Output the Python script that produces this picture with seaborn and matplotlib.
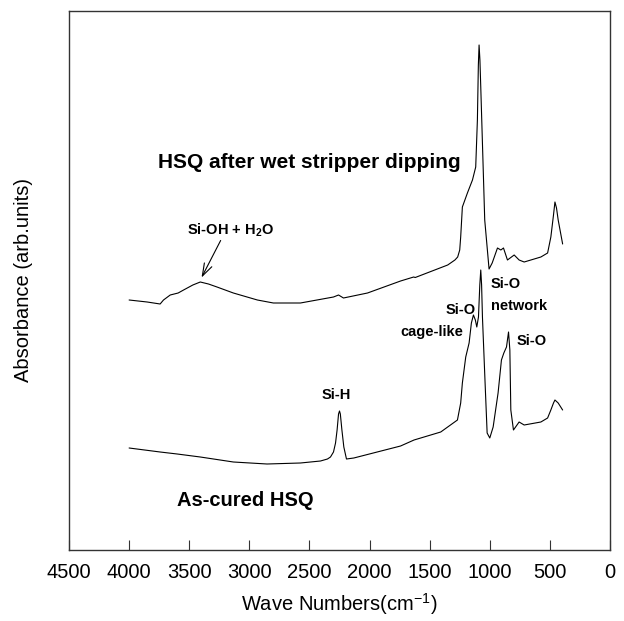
import matplotlib
matplotlib.use("Agg")
import matplotlib.pyplot as plt
import seaborn as sns
import pandas as pd

# --- data (wavenumber cm^-1, absorbance arb. units) ---
wet_wn = [4000, 3850, 3742, 3714, 3658, 3592, 3547, 3470, 3408, 3340, 3269, 3133, 2933,
          2800, 2575, 2300, 2258, 2217, 2017, 1742, 1633, 1620, 1350, 1290, 1267, 1250,
          1242, 1228, 1186, 1144, 1117, 1103, 1095, 1089, 1082, 1075, 1042, 1006, 980,
          936, 908, 886, 853, 797, 756, 714, 575, 519, 492, 470, 458, 445, 431, 394]
wet_abs = [2.50, 2.48, 2.46, 2.50, 2.55, 2.57, 2.60, 2.65, 2.68, 2.66, 2.63, 2.57, 2.50,
           2.47, 2.47, 2.53, 2.55, 2.52, 2.57, 2.69, 2.73, 2.725, 2.85, 2.90, 2.93, 3.00,
           3.13, 3.43, 3.57, 3.70, 3.83, 4.30, 4.85, 5.05, 4.90, 4.63, 3.30, 2.81, 2.87,
           3.02, 3.00, 3.02, 2.90, 2.95, 2.90, 2.88, 2.93, 2.97, 3.13, 3.35, 3.48, 3.42,
           3.30, 3.06]

cured_wn = [4000, 3742, 3600, 3408, 3133, 2853, 2575, 2408, 2350, 2325, 2300, 2283, 2270,
            2258, 2250, 2243, 2230, 2214, 2192, 2131, 1742, 1630, 1408, 1269, 1242, 1228,
            1200, 1172, 1153, 1136, 1120, 1108, 1094, 1083, 1075, 1068, 1061, 1039, 1022,
            1000, 972, 931, 903, 883, 861, 844, 833, 825, 803, 756, 714, 575, 519, 492,
            470, 458, 431, 394]
cured_abs = [1.02, 0.98, 0.96, 0.93, 0.88, 0.86, 0.87, 0.89, 0.91, 0.93, 0.98, 1.07, 1.20,
             1.36, 1.39, 1.36, 1.20, 1.03, 0.91, 0.92, 1.04, 1.10, 1.18, 1.30, 1.47, 1.67,
             1.93, 2.07, 2.27, 2.35, 2.30, 2.23, 2.33, 2.65, 2.80, 2.65, 2.33, 1.67, 1.17,
             1.12, 1.23, 1.57, 1.90, 1.97, 2.03, 2.18, 2.00, 1.40, 1.20, 1.28, 1.25, 1.28,
             1.32, 1.40, 1.47, 1.50, 1.47, 1.40]

x_ticks = [4500, 4000, 3500, 3000, 2500, 2000, 1500, 1000, 500, 0]

sns.set_style("white")
plt.rcParams['font.family'] = ['Liberation Sans', 'DejaVu Sans']
plt.rcParams['mathtext.fontset'] = 'custom'
plt.rcParams['mathtext.rm'] = 'Liberation Sans'
plt.rcParams['mathtext.bf'] = 'Liberation Sans:bold'
plt.rcParams['text.color'] = 'black'
plt.rcParams['axes.labelcolor'] = 'black'
plt.rcParams['xtick.color'] = 'black'
plt.rcParams['ytick.color'] = 'black'

fig, ax = plt.subplots(figsize=(6.24, 6.21), dpi=100)
fig.subplots_adjust(left=69/624, right=610/624, bottom=(621-550)/621, top=(621-11)/621)

df_wet = pd.DataFrame({"wn": wet_wn, "abs": wet_abs})
df_cured = pd.DataFrame({"wn": cured_wn, "abs": cured_abs})
sns.lineplot(data=df_wet, x="wn", y="abs", ax=ax, color="black", lw=0.8,
             sort=False, estimator=None)
sns.lineplot(data=df_cured, x="wn", y="abs", ax=ax, color="black", lw=0.8,
             sort=False, estimator=None)

ax.set_xlim(4500, 0)
ax.set_ylim(0, 5.39)
ax.set_xticks(x_ticks)
ax.set_xticklabels([str(t) for t in x_ticks])
ax.set_yticks([])
ax.tick_params(axis='x', direction='in', length=7, width=0.8, color='#333333',
               labelcolor='black', labelsize=14.5, pad=9, bottom=True)
for s in ax.spines.values():
    s.set_color('#333333')
    s.set_linewidth(1.0)

ax.set_xlabel("Wave Numbers(cm$^{\\mathregular{-1}}$)", fontsize=14.5, labelpad=7,
              color='black')
ax.set_ylabel("Absorbance (arb.units)", fontsize=14.5, labelpad=26, color='black')

ax.text(2500, 3.87, "HSQ after wet stripper dipping", fontsize=15, fontweight='bold',
        ha='center', va='center', color='black')
ax.text(3033, 0.50, "As-cured HSQ", fontsize=14.5, fontweight='bold',
        ha='center', va='center', color='black')
ax.text(3158, 3.20, r"Si-OH + H$_\mathbf{2}$O", fontsize=10.5, fontweight='bold',
        ha='center', va='center', color='black')
ax.annotate("", xy=(3408, 2.70), xytext=(3228, 3.12),
            arrowprops=dict(arrowstyle='->,head_length=0.9,head_width=0.3',
                            color='black', lw=0.8))
ax.text(2275, 1.55, "Si-H", fontsize=10.5, fontweight='bold', ha='center', va='center',
        color='black')
ax.text(1242, 2.40, "Si-O", fontsize=10.5, fontweight='bold', ha='center', va='center',
        color='black')
ax.text(1478, 2.18, "cage-like", fontsize=10.5, fontweight='bold', ha='center',
        va='center', color='black')
ax.text(992, 2.66, "Si-O", fontsize=10.5, fontweight='bold', ha='left', va='center',
        color='black')
ax.text(992, 2.44, "network", fontsize=10.5, fontweight='bold', ha='left', va='center',
        color='black')
ax.text(650, 2.09, "Si-O", fontsize=10.5, fontweight='bold', ha='center', va='center',
        color='black')

fig.savefig("out.png", dpi=100)
